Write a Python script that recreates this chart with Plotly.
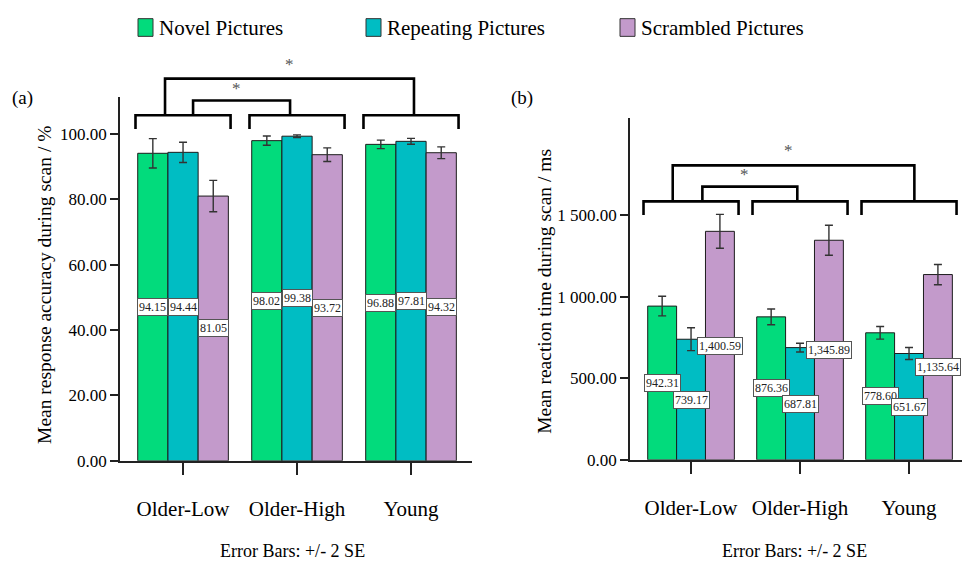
import plotly.graph_objects as go

# ---- data -------------------------------------------------------------
groups = ["Older-Low", "Older-High", "Young"]
series = ["Novel Pictures", "Repeating Pictures", "Scrambled Pictures"]
colors = ["#02DB7C", "#00BDC3", "#C39ACB"]

# (a) mean response accuracy (%) and +/- 2 SE
acc_novel = [94.15, 98.02, 96.88]
acc_repeat = [94.44, 99.38, 97.81]
acc_scram = [81.05, 93.72, 94.32]
acc_err_novel = [4.5, 1.4, 1.3]
acc_err_repeat = [3.1, 0.4, 0.9]
acc_err_scram = [4.8, 2.1, 1.8]

# (b) mean reaction time (ms) and +/- 2 SE
rt_novel = [942.31, 876.36, 778.60]
rt_repeat = [739.17, 687.81, 651.67]
rt_scram = [1400.59, 1345.89, 1135.64]
rt_err_novel = [60, 48, 39]
rt_err_repeat = [70, 27, 37]
rt_err_scram = [104, 92, 62]

acc_ticks = [0, 20, 40, 60, 80, 100]
acc_ticktext = ["0.00", "20.00", "40.00", "60.00", "80.00", "100.00"]
rt_ticks = [0, 500, 1000, 1500]
rt_ticktext = ["0.00", "500.00", "1 000.00", "1 500.00"]

W, H = 965, 572
FONT = "Liberation Serif"
BARGAP = 0.205
ACC_MAX = 111.3
RT_MAX = 2096

fig = go.Figure()

acc_vals = [acc_novel, acc_repeat, acc_scram]
acc_errs = [acc_err_novel, acc_err_repeat, acc_err_scram]
rt_vals = [rt_novel, rt_repeat, rt_scram]
rt_errs = [rt_err_novel, rt_err_repeat, rt_err_scram]

for vals, errs, xa, ya in [(acc_vals, acc_errs, "x", "y"), (rt_vals, rt_errs, "x2", "y2")]:
    for name, v, e, c in zip(series, vals, errs, colors):
        fig.add_trace(go.Bar(
            x=groups, y=v, name=name, xaxis=xa, yaxis=ya,
            marker=dict(color=c, line=dict(color="#1c1c1c", width=1)),
            error_y=dict(type="data", array=e, visible=True,
                         color="#333333", thickness=1.4, width=4),
            showlegend=False,
        ))

# value labels sit at half the bar height, centred on each bar
bw = (1 - BARGAP) / 3
offsets = [-bw, 0, bw]
annotations = []
for vals, xa, ya, fmt in [(acc_vals, "x", "y", "{:.2f}"), (rt_vals, "x2", "y2", "{:,.2f}")]:
    for k, v in enumerate(vals):
        for i, val in enumerate(v):
            annotations.append(dict(
                x=i + offsets[k], y=val / 2, xref=xa, yref=ya,
                xanchor="center", yanchor="middle",
                text=fmt.format(val), showarrow=False,
                font=dict(family=FONT, size=12, color="#222"),
                bgcolor="white", bordercolor="#555", borderwidth=1, borderpad=1,
            ))

shapes = []
BLK = dict(color="black", width=2.6)


def bracket_set(xref, yref, half, base, top, inner, inner_top, outer, outer_top):
    out = []
    for i in range(3):
        l, r = i - half, i + half
        out.append(dict(type="path", xref=xref, yref=yref, line=BLK,
                        path=f"M {l} {base} L {l} {top} L {r} {top} L {r} {base}"))
    a, b = inner
    out.append(dict(type="path", xref=xref, yref=yref, line=BLK,
                    path=f"M {a} {top} L {a} {inner_top} L {b} {inner_top} L {b} {top}"))
    a, b = outer
    out.append(dict(type="path", xref=xref, yref=yref, line=BLK,
                    path=f"M {a} {top} L {a} {outer_top} L {b} {outer_top} L {b} {top}"))
    return out


# (a) brackets drawn in domain units so they can rise above the axis
shapes += bracket_set("x", "y domain", 0.417,
                      101.6 / ACC_MAX, 105.8 / ACC_MAX,
                      (0.088, 0.939), 110.3 / ACC_MAX,
                      (-0.158, 2.026), 117.0 / ACC_MAX)
shapes += bracket_set("x2", "y2", 0.436, 1500, 1584,
                      (0.104, 0.975), 1675, (-0.168, 2.049), 1805)

star_font = dict(family=FONT, size=17, color="#555")
annotations += [
    dict(x=0.471, y=114.0 / ACC_MAX, xref="x", yref="y domain", text="*",
         showarrow=False, font=star_font),
    dict(x=0.93, y=121.3 / ACC_MAX, xref="x", yref="y domain", text="*",
         showarrow=False, font=star_font),
    dict(x=0.495, y=1751, xref="x2", yref="y2", text="*",
         showarrow=False, font=star_font),
    dict(x=0.893, y=1896, xref="x2", yref="y2", text="*",
         showarrow=False, font=star_font),
]
for a in annotations[-4:]:
    a.update(xanchor="center", yanchor="middle")


def px(x):
    return x / W


def py(y):
    return 1 - y / H


# legend
legend_x = [138, 366, 620]
for c, name, lx in zip(colors, series, legend_x):
    shapes.append(dict(type="rect", xref="paper", yref="paper",
                       x0=px(lx), x1=px(lx + 15), y0=py(37), y1=py(19),
                       fillcolor=c, line=dict(color="#333", width=1)))
    annotations.append(dict(x=px(lx + 19), y=py(28), xref="paper", yref="paper",
                            xanchor="left", yanchor="middle", text=name,
                            showarrow=False, font=dict(family=FONT, size=21, color="black")))

# panel letters, axis titles and footers
text_font = dict(family=FONT, size=19, color="black")
centered = [
    dict(x=px(22), y=py(100), text="(a)", font=text_font),
    dict(x=px(522), y=py(100), text="(b)", font=text_font),
    dict(x=px(45), y=py(290), textangle=-90,
         text="Mean response accuracy during scan / %",
         font=dict(family=FONT, size=19.5, color="black")),
    dict(x=px(545), y=py(297), textangle=-90,
         text="Mean reaction time during scan / ms",
         font=dict(family=FONT, size=19.5, color="black")),
    dict(x=px(292), y=py(561), text="Error Bars: +/- 2 SE",
         font=dict(family=FONT, size=18, color="black")),
    dict(x=px(794), y=py(561), text="Error Bars: +/- 2 SE",
         font=dict(family=FONT, size=18, color="black")),
]
for a in centered:
    a.update(xref="paper", yref="paper", xanchor="center", yanchor="middle",
             showarrow=False)
annotations += centered

xcommon = dict(type="category", showline=True, linecolor="#222", linewidth=1.5,
               ticks="outside", ticklen=12, tickwidth=1.5, tickcolor="#222",
               tickfont=dict(family=FONT, size=21, color="black"),
               ticklabelstandoff=16, showgrid=False, zeroline=False, fixedrange=True)
ycommon = dict(showline=True, linecolor="#222", linewidth=1.5,
               ticks="outside", ticklen=8, tickwidth=1.5, tickcolor="#222",
               tickfont=dict(family=FONT, size=17, color="black"),
               showgrid=False, zeroline=False, fixedrange=True)

fig.update_layout(
    width=W, height=H,
    margin=dict(l=0, r=0, t=0, b=0),
    paper_bgcolor="white", plot_bgcolor="white",
    barmode="group", bargap=BARGAP, bargroupgap=0,
    xaxis=dict(xcommon, domain=[px(120), px(472)], range=[-0.553, 2.535], anchor="y"),
    yaxis=dict(ycommon, domain=[py(469), py(99)], range=[0, ACC_MAX], anchor="x",
               tickvals=acc_ticks, ticktext=acc_ticktext),
    xaxis2=dict(xcommon, domain=[px(630), px(962)], range=[-0.56, 2.486], anchor="y2"),
    yaxis2=dict(ycommon, domain=[py(468), py(120)], range=[0, RT_MAX], anchor="x2",
                tickvals=rt_ticks, ticktext=rt_ticktext),
    shapes=shapes,
    annotations=annotations,
    showlegend=False,
)

fig.write_html("out.html")
